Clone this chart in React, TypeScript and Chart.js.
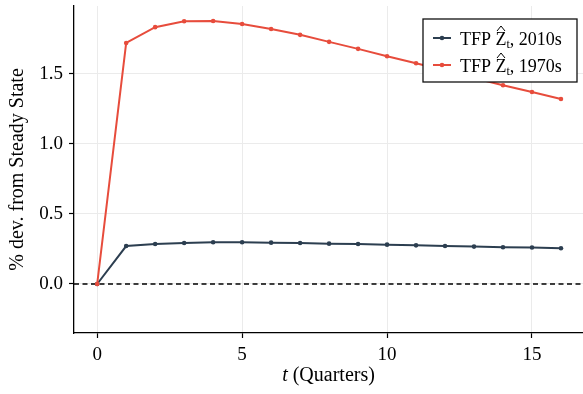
import React, { useEffect, useRef } from "react";
import { Chart, registerables } from "chart.js";

Chart.register(...registerables);

const quarters = [0, 1, 2, 3, 4, 5, 6, 7, 8, 9, 10, 11, 12, 13, 14, 15, 16];
const tfp2010s = [0, 0.271, 0.286, 0.293, 0.298, 0.298, 0.295, 0.293, 0.288, 0.286, 0.281, 0.276, 0.271, 0.267, 0.262, 0.26, 0.255];
const tfp1970s = [0, 1.721, 1.834, 1.876, 1.878, 1.857, 1.821, 1.779, 1.729, 1.679, 1.626, 1.576, 1.525, 1.471, 1.419, 1.371, 1.321];
const xTicks = [0, 5, 10, 15];
const yTicks = [0, 0.5, 1.0, 1.5];
const seriesLabels = ["2010s", "1970s"];
const seriesColors = ["#2c3e50", "#e74c3c"];

const FONT = "'Liberation Serif', 'Times New Roman', serif";

const extrasPlugin = {
  id: "extras",
  beforeDatasetsDraw(chart: any) {
    const { ctx, chartArea } = chart;
    const y0 = chart.scales.y.getPixelForValue(0);
    ctx.save();
    ctx.strokeStyle = "#000";
    ctx.lineWidth = 1.3;
    ctx.setLineDash([5, 3.5]);
    ctx.beginPath();
    ctx.moveTo(chartArea.left, y0);
    ctx.lineTo(chartArea.right, y0);
    ctx.stroke();
    ctx.restore();
  },
  afterDraw(chart: any) {
    const { ctx, chartArea } = chart;
    ctx.save();
    // axis titles
    ctx.fillStyle = "#000";
    ctx.textBaseline = "middle";
    const cx = (chartArea.left + chartArea.right) / 2;
    ctx.font = `italic 20px ${FONT}`;
    const tW = ctx.measureText("t").width;
    ctx.font = `20px ${FONT}`;
    const rest = " (Quarters)";
    const rW = ctx.measureText(rest).width;
    const startX = cx - (tW + rW) / 2;
    const ty = 376;
    ctx.textAlign = "left";
    ctx.font = `italic 20px ${FONT}`;
    ctx.fillText("t", startX, ty);
    ctx.font = `20px ${FONT}`;
    ctx.fillText(rest, startX + tW, ty);

    ctx.save();
    ctx.translate(18, (chartArea.top + chartArea.bottom) / 2);
    ctx.rotate(-Math.PI / 2);
    ctx.textAlign = "center";
    ctx.fillText("% dev. from Steady State", 0, 0);
    ctx.restore();

    // legend
    const bx = chartArea.right - 160;
    const by = chartArea.top + 13;
    const bw = 154;
    const bh = 63;
    ctx.fillStyle = "#fff";
    ctx.fillRect(bx, by, bw, bh);
    ctx.strokeStyle = "#111";
    ctx.lineWidth = 1.3;
    ctx.strokeRect(bx, by, bw, bh);
    chart.data.datasets.forEach((ds: any, i: number) => {
      const rowY = by + 19 + i * 27;
      ctx.strokeStyle = ds.borderColor;
      ctx.lineWidth = 2;
      ctx.beginPath();
      ctx.moveTo(bx + 10, rowY);
      ctx.lineTo(bx + 28, rowY);
      ctx.stroke();
      ctx.fillStyle = ds.borderColor;
      ctx.beginPath();
      ctx.arc(bx + 19, rowY, 2.3, 0, Math.PI * 2);
      ctx.fill();
      ctx.fillStyle = "#000";
      ctx.textAlign = "left";
      ctx.textBaseline = "alphabetic";
      const base = rowY + 7;
      let x = bx + 37;
      ctx.font = `18px ${FONT}`;
      ctx.fillText("TFP ", x, base);
      x += ctx.measureText("TFP ").width;
      const zW = ctx.measureText("Z").width;
      ctx.fillText("Z", x, base);
      // hat accent over Z
      ctx.strokeStyle = "#000";
      ctx.lineWidth = 1;
      ctx.beginPath();
      ctx.moveTo(x + 1.5, base - 14);
      ctx.lineTo(x + zW / 2, base - 19);
      ctx.lineTo(x + zW - 1.5, base - 14);
      ctx.stroke();
      x += zW;
      ctx.font = `12px ${FONT}`;
      ctx.fillText("t", x, base + 3);
      x += ctx.measureText("t").width;
      ctx.font = `18px ${FONT}`;
      ctx.fillText(", " + seriesLabels[i], x, base);
    });
    ctx.restore();
  },
};

export default function App() {
  const ref = useRef<HTMLCanvasElement | null>(null);
  useEffect(() => {
    if (!ref.current) return;
    const chart = new Chart(ref.current, {
      type: "line",
      data: {
        datasets: [tfp2010s, tfp1970s].map((vals, i) => ({
          label: "TFP Z_t, " + seriesLabels[i],
          data: quarters.map((q, j) => ({ x: q, y: vals[j] })),
          borderColor: seriesColors[i],
          backgroundColor: seriesColors[i],
          borderWidth: 2,
          pointRadius: 2.3,
          pointBorderWidth: 0,
          pointHoverRadius: 2.3,
          tension: 0,
          fill: false,
          order: i === 0 ? 1 : 0,
        })),
      },
      options: {
        responsive: false,
        animation: false,
        layout: { autoPadding: false, padding: { top: 6, right: 0, left: 0, bottom: 0 } },
        plugins: { legend: { display: false }, tooltip: { enabled: false } },
        scales: {
          x: {
            type: "linear",
            min: -0.8,
            max: 16.76,
            afterFit: (s: any) => { s.height = 61; s.paddingLeft = 0; s.paddingRight = 0; },
            afterBuildTicks: (s: any) => { s.ticks = xTicks.map((v) => ({ value: v })); },
            grid: { color: "#ebebeb", lineWidth: 1, tickColor: "#000", tickLength: 5, tickWidth: 1.2 },
            border: { display: true, color: "#000", width: 1.3 },
            ticks: { color: "#000", font: { family: FONT, size: 19 }, padding: 6, maxRotation: 0, callback: (v: any) => String(v) },
          },
          y: {
            type: "linear",
            min: -0.35,
            max: 1.985,
            afterFit: (s: any) => { s.width = 74; s.paddingTop = 0; s.paddingBottom = 0; },
            afterBuildTicks: (s: any) => { s.ticks = yTicks.map((v) => ({ value: v })); },
            grid: { color: "#ebebeb", lineWidth: 1, tickColor: "#000", tickLength: 5, tickWidth: 1.2 },
            border: { display: true, color: "#000", width: 1.3 },
            ticks: { color: "#000", font: { family: FONT, size: 19 }, padding: 6, callback: (v: any) => Number(v).toFixed(1) },
          },
        },
      },
      plugins: [extrasPlugin],
    });
    return () => chart.destroy();
  }, []);
  return (
    <div style={{ position: "fixed", left: 0, top: 0, width: 583, height: 394, background: "#fff" }}>
      <canvas ref={ref} width={583} height={394} />
    </div>
  );
}
